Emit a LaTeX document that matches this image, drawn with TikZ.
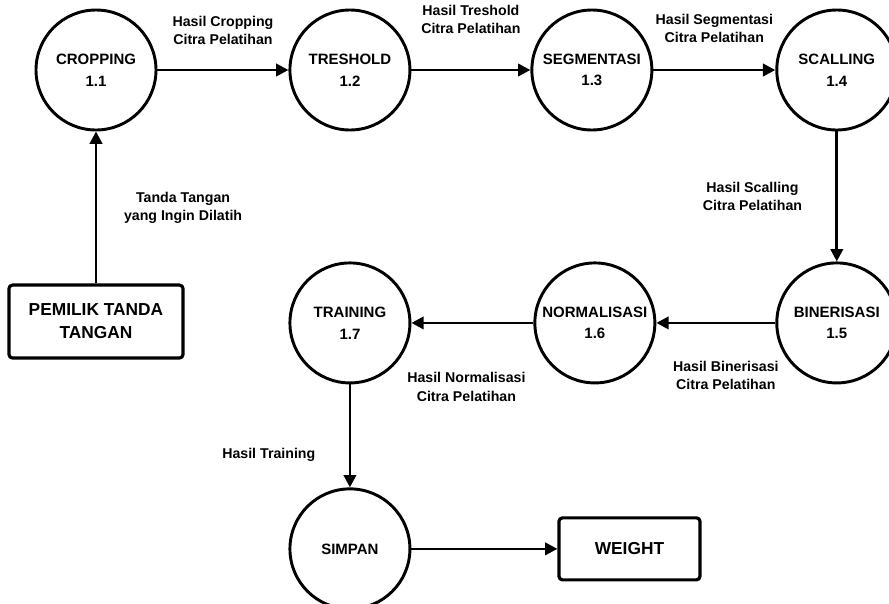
\documentclass[tikz,border=0pt]{standalone}
\usepackage{fontspec}
\setmainfont{Liberation Sans}
\usepackage{tikz}
\usetikzlibrary{arrows.meta, positioning}

\begin{document}
\begin{tikzpicture}[
    node distance=3.7cm,
    every node/.style={font=\bfseries},
    proses/.style={
        circle,
        draw=black,
        line width=2.5pt,
        minimum size=3.6cm,
        inner sep=0pt,
        align=center,
        font=\fontsize{12.8}{18.5}\selectfont\bfseries
    },
    entitas/.style={
        rectangle,
        rounded corners=3pt,
        draw=black,
        line width=2.7pt,
        align=center,
        font=\fontsize{14.8}{19.6}\selectfont\bfseries
    },
    ket/.style={
        align=center,
        inner sep=0pt,
        font=\fontsize{12.1}{15.5}\selectfont\bfseries
    },
    arrow/.style={
        -{Triangle[length=3.7mm, width=3.7mm]},
        line width=2.3pt
    }
]
\useasboundingbox (0,0) rectangle (26.67,-18.09);

% baris atas
\node[proses] (cropping) at (2.88,-2.1) {CROPPING\\1.1};
\node[proses, right=3.93cm of cropping] (treshold) {TRESHOLD\\1.2};
\node[proses, right=3.57cm of treshold] (segmentasi) {SEGMENTASI\\1.3};
\node[proses, right=3.66cm of segmentasi] (scalling) {SCALLING\\1.4};

% baris tengah
\node[proses, below=3.9cm of scalling] (binerisasi) {BINERISASI\\1.5};
\node[proses, left=3.57cm of binerisasi] (normalisasi) {NORMALISASI\\1.6};
\node[proses, left=3.66cm of normalisasi] (training) {TRAINING\\1.7};

% bawah
\node[proses, below=3.09cm of training] (simpan) {SIMPAN};
\node[entitas, minimum width=4.23cm, minimum height=1.86cm, right=4.38cm of simpan] (weight) {WEIGHT};
\node[entitas, minimum width=5.22cm, minimum height=2.19cm, below=4.56cm of cropping] (pemilik) {PEMILIK TANDA\\TANGAN};

\draw[arrow] (pemilik) -- node[ket, right=0.8cm] (ltanda) {Tanda Tangan\\yang Ingin Dilatih} (cropping);
\draw[arrow] (cropping) -- node[ket, above=0.72cm] (lcrop) {Hasil Cropping\\Citra Pelatihan} (treshold);
\draw[arrow] (treshold) -- node[ket, above=1.05cm] (ltresh) {Hasil Treshold\\Citra Pelatihan} (segmentasi);
\draw[arrow] (segmentasi) -- node[ket, above=0.78cm] (lsegmen) {Hasil Segmentasi\\Citra Pelatihan} (scalling);
\draw[arrow] (scalling) -- node[ket, left=1cm] (lscal) {Hasil Scalling\\Citra Pelatihan} (binerisasi);
\draw[arrow] (binerisasi) -- node[ket, below=1.1cm, xshift=0.3cm] (lbiner) {Hasil Binerisasi\\Citra Pelatihan} (normalisasi);
\draw[arrow] (normalisasi) -- node[ket, below=1.45cm, xshift=-0.18cm] (lnormal) {Hasil Normalisasi\\Citra Pelatihan} (training);
\draw[arrow] (training) -- node[ket, left=1cm, yshift=-0.57cm] (ltrain) {Hasil Training} (simpan);
\draw[arrow] (simpan) -- (weight);

\end{tikzpicture}
\end{document}
